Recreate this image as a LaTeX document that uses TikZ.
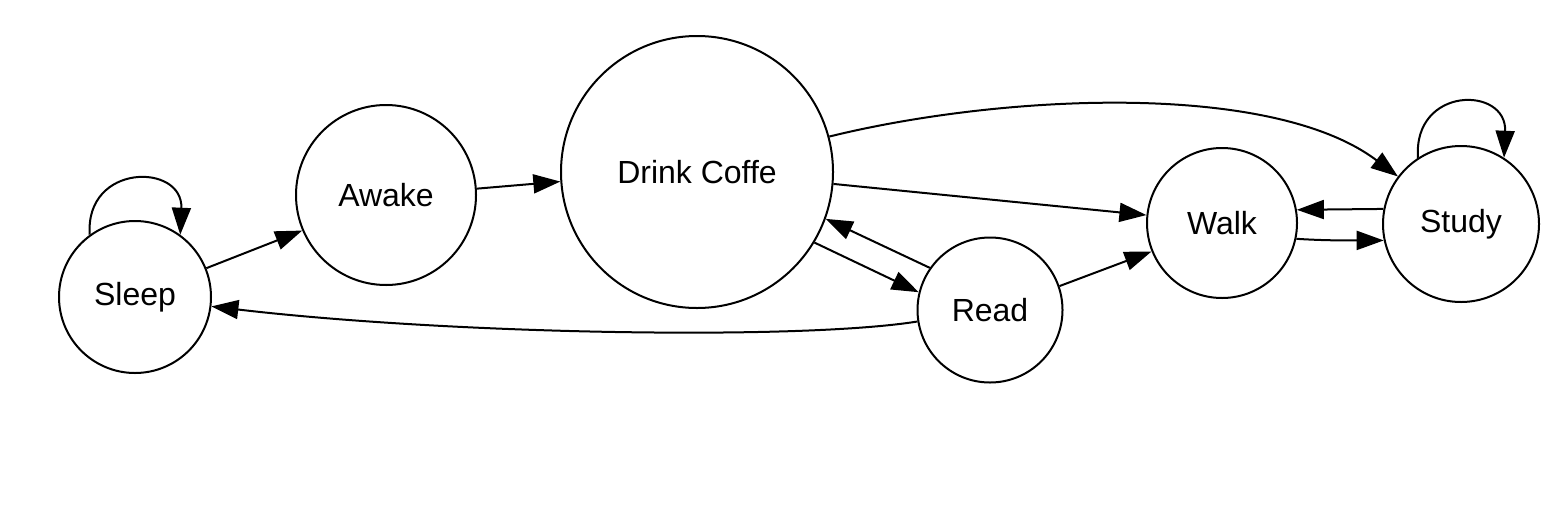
\documentclass[tikz,border=0pt]{standalone}
\usepackage{fontspec}
\setmainfont{Liberation Sans}
\usetikzlibrary{arrows.meta}
\begin{document}
\begin{tikzpicture}[x=1pt,y=-1pt,
  state/.style={draw, circle, line width=2pt, inner sep=0pt, font=\fontsize{32}{36}\selectfont},
  edge/.style={line width=2pt, -{Triangle[length=27pt,width=19pt]}}]
\useasboundingbox (0,0) rectangle (1568,509);
\node[state, minimum size=152pt] (sleep) at (135,297) {Sleep};
\node[state, minimum size=180pt] (awake) at (386,195) {Awake};
\node[state, minimum size=272pt] (drink) at (697,172) {\raisebox{1pt}{Drink Coffe}};
\node[state, minimum size=145pt] (read) at (990,310) {Read};
\node[state, minimum size=150pt] (walk) at (1222,223) {Walk};
\node[state, minimum size=156pt] (study) at (1461,224) {Study};

\draw[edge] (sleep.126) .. controls +(-5,-72) and +(3,-72) .. (sleep.54);
\draw[edge] (study.123) .. controls +(-5,-72) and +(3,-72) .. (study.57);
\draw[edge] (sleep.22) -- (awake.203);
\draw[edge] (awake.4) -- (drink.184);
\draw[edge] (drink.15) .. controls +(170,-42) and +(-127,-96) .. (study.143);
\draw[edge] (drink.-5) -- (walk.174);
\draw[edge] (drink.-31) -- (read.166);
\draw[edge] (read.145) -- (drink.-20);
\draw[edge] (read.-171) .. controls +(-118,19) and +(238,28) .. (sleep.-7);
\draw[edge] (read.19) -- (walk.-158);
\draw[edge] (walk.-12) .. controls +(30,2) and +(-30,0) .. (study.192);
\draw[edge] (study.169) -- (walk.10);
\end{tikzpicture}
\end{document}
